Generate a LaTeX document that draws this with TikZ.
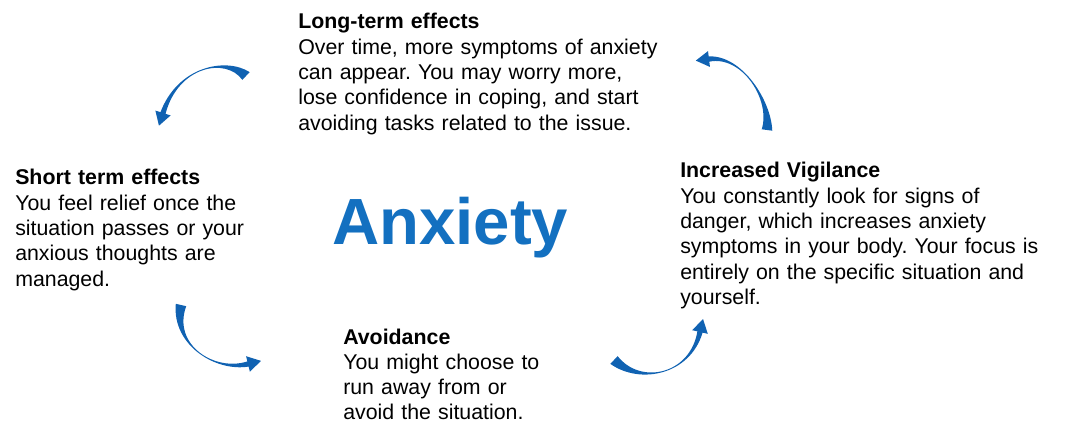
\documentclass[tikz,border=0pt]{standalone}
\usepackage{fontspec}
\setmainfont{Liberation Sans}
\usetikzlibrary{calc}
\definecolor{anxblue}{RGB}{19,112,192}
\definecolor{arrowblue}{RGB}{16,98,178}
\frenchspacing
\tikzset{
  textblock/.style={
    anchor=base west, inner sep=0pt, text width=10cm, align=left,
    font=\fontsize{16}{19}\selectfont, text=black
  },
  title/.style={
    anchor=base west, inner sep=0pt, font=\fontsize{49}{49}\selectfont\bfseries,
    text=anxblue
  }
}
% tapered curved arrow: #1 tail, #2 #3 controls, #4 head base
\newcommand{\curvedarrow}[4]{%
  \fill[arrowblue]
    ($(#1)!4pt!90:(#2)$) .. controls (#2) and (#3) .. ($(#4)!2pt!-90:(#3)$)
    -- ($(#4)!6pt!-90:(#3)$) -- ($(#4)!-10pt!(#3)$) -- ($(#4)!6pt!90:(#3)$)
    -- ($(#4)!2pt!90:(#3)$) .. controls (#3) and (#2) .. ($(#1)!4pt!-90:(#2)$)
    -- cycle;
}

\begin{document}
\begin{tikzpicture}[x=0.75pt, y=-0.75pt]
    \useasboundingbox (0,0) rectangle (1068,442);

    % centre word
    \node[title] (anxiety) at (332,245) {Anxiety};

    % the four stages
    \node[textblock] (longterm) at (298,29) {\textbf{Long-term effects}\\
      Over time, more symptoms of anxiety\\
      can appear. You may worry more,\\
      lose confidence in coping, and start\\
      avoiding tasks related to the issue.};
    \node[textblock] (vigil) at (680,178) {\textbf{Increased Vigilance}\\
      You constantly look for signs of\\
      danger, which increases anxiety\\
      symptoms in your body. Your focus is\\
      entirely on the specific situation and\\
      yourself.};
    \node[textblock] (avoid) at (343,344) {\textbf{Avoidance}\\
      You might choose to\\
      run away from or\\
      avoid the situation.};
    \node[textblock] (short) at (15,185) {\textbf{Short term effects}\\
      You feel relief once the\\
      situation passes or your\\
      anxious thoughts are\\
      managed.};

    % cycle arrows
    \coordinate (a1t) at (246,76);
    \coordinate (a1p) at (226,57);
    \coordinate (a1q) at (178,66);
    \coordinate (a1h) at (163,113);
    \coordinate (a2t) at (767,130);
    \coordinate (a2p) at (771,100);
    \coordinate (a2q) at (742,55);
    \coordinate (a2h) at (709,59);
    \coordinate (a3t) at (181,305);
    \coordinate (a3p) at (172,345);
    \coordinate (a3q) at (215,372);
    \coordinate (a3h) at (248,364);
    \coordinate (a4t) at (614,360);
    \coordinate (a4p) at (640,385);
    \coordinate (a4q) at (690,375);
    \coordinate (a4h) at (700,332);

    \curvedarrow{a1t}{a1p}{a1q}{a1h}
    \curvedarrow{a2t}{a2p}{a2q}{a2h}
    \curvedarrow{a3t}{a3p}{a3q}{a3h}
    \curvedarrow{a4t}{a4p}{a4q}{a4h}
\end{tikzpicture}
\end{document}
